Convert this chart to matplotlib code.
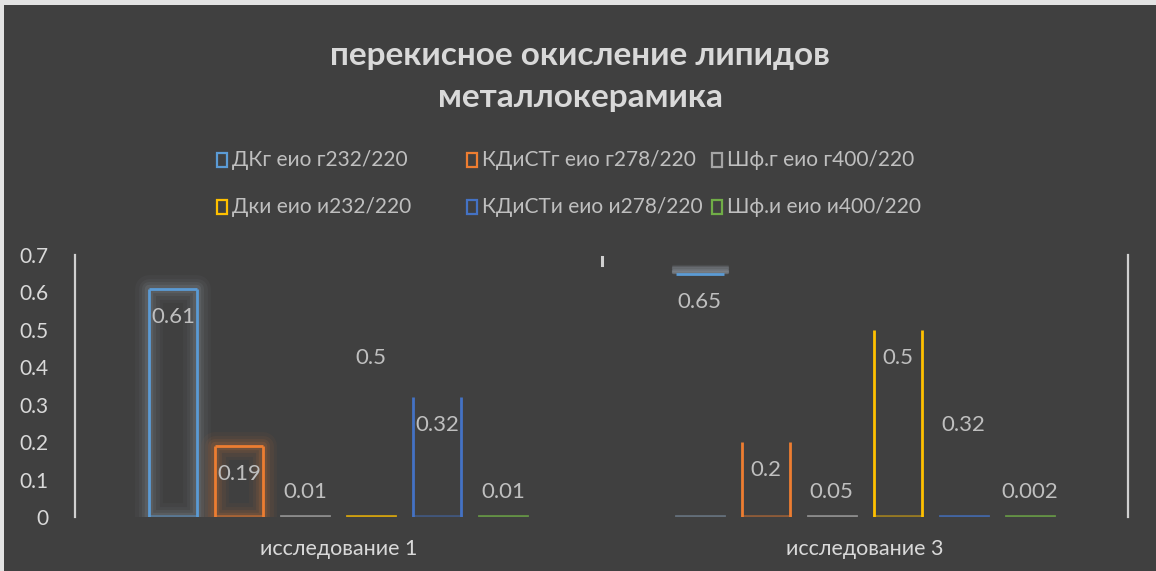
import matplotlib
matplotlib.use("Agg")
import matplotlib.pyplot as plt
from matplotlib.patches import Rectangle

plt.rcParams['font.family'] = ['Lato', 'Open Sans', 'DejaVu Sans']

# ---- data ----
categories = ["исследование 1", "исследование 3"]
series_names = ["ДКг еио г232/220", "КДиСТг еио г278/220", "Шф.г еио г400/220",
                "Дки еио и232/220", "КДиСТи еио и278/220", "Шф.и еио и400/220"]
series_values = [
    [0.61, 0.65],
    [0.19, 0.2],
    [0.01, 0.05],
    [0.5, 0.5],
    [0.32, 0.32],
    [0.01, 0.002],
]
y_ticks = [0, 0.1, 0.2, 0.3, 0.4, 0.5, 0.6, 0.7]
y_tick_labels = ["0", "0.1", "0.2", "0.3", "0.4", "0.5", "0.6", "0.7"]

# ---- style ----
colors = ["#5b9bd5", "#ed7d31", "#a5a5a5", "#ffc000", "#4472c4", "#70ad47"]
# visible outline sides of each bar (l, r, t, b) and whether it has a halo
edges = [
    ["lrtb", "t"],
    ["lrtb", "lrb"],
    ["b", "b"],
    ["b", "lrb"],
    ["lrb", "b"],
    ["b", "b"],
]
glow = [[True, True], [True, False], [False] * 2, [False] * 2, [False] * 2, [False] * 2]
bg = "#404040"
text_col = "#d9d9d9"
label_col = "#bfbfbf"

W, H = 1156, 571
fig = plt.figure(figsize=(W / 100, H / 100), dpi=100, facecolor=bg)

# light frame on top and left edges
fig.patches.append(Rectangle((0, 1 - 5 / H), 1, 5 / H, transform=fig.transFigure,
                             facecolor="#e3e3e3", edgecolor="none", zorder=0))
fig.patches.append(Rectangle((0, 0), 4 / W, 1, transform=fig.transFigure,
                             facecolor="#e3e3e3", edgecolor="none", zorder=0))

ax = fig.add_axes([75 / W, 54 / H, (1128 - 75) / W, (316 - 54) / H])
ax.set_facecolor(bg)
ax.set_xlim(-0.5, len(categories) - 0.5)
ax.set_ylim(0, 0.7)

step = 0.1254
width = 0.0912
n = len(series_names)

for i, (vals, col) in enumerate(zip(series_values, colors)):
    xs = [c + (i - (n - 1) / 2) * step for c in range(len(categories))]
    bars = ax.bar(xs, vals, width=width, color="none", edgecolor="none")
    for j, b in enumerate(bars):
        x0, x1 = b.get_x(), b.get_x() + b.get_width()
        h = b.get_height()
        sides = edges[i][j]
        segs = []
        if "l" in sides:
            segs.append(([x0, x0], [0, h]))
        if "r" in sides:
            segs.append(([x1, x1], [0, h]))
        if "t" in sides:
            segs.append(([x0, x1], [h, h]))
        if glow[i][j]:
            if sides == "t":
                for k, a in zip(range(1, 7), [0.6, 0.55, 0.5, 0.4, 0.28, 0.15]):
                    ax.plot([x0 - 0.006, x1 + 0.006], [h + k * 0.0035, h + k * 0.0035],
                            color="#7d848c", lw=2.4, alpha=a, solid_capstyle="round",
                            zorder=2)
            else:
                halo = "#8a929b" if i == 0 else "#c0703a"
                for lw, a in [(20, 0.06), (15, 0.08), (10, 0.12), (6, 0.18)]:
                    ax.plot([x0, x0, x1, x1, x0], [0, h, h, 0, 0], color=halo,
                            lw=lw, alpha=a, solid_joinstyle="round", zorder=2)
        if "b" in sides:
            if sides == "b" or "l" in sides:
                ax.plot([x0, x1], [0.0015, 0.0015], color=col, lw=2,
                        alpha=0.75 if sides == "b" else 0.45, zorder=3)
            else:
                segs.append(([x0, x1], [0, 0]))
        if sides == "t":
            ax.plot([x0, x1], [0.0015, 0.0015], color="#6c7a88", lw=2, alpha=0.8, zorder=3)
        for sx, sy in segs:
            ax.plot(sx, sy, color=col, lw=2, zorder=4, solid_capstyle="butt")
        # value label, inside the bar end, kept above the axis for small bars
        ly = max(h - 0.075, 0.067)
        ax.text(b.get_x() + b.get_width() / 2, ly, f"{vals[j]:g}", ha="center",
                va="center", color=label_col, fontsize=16, zorder=5)

# axes styling
for s in ["top", "bottom"]:
    ax.spines[s].set_visible(False)
for s in ["left", "right"]:
    ax.spines[s].set_color("#d0d0d0")
    ax.spines[s].set_linewidth(1.6)
ax.plot([0.5, 0.5], [0.672, 0.695], color="#d0d0d0", lw=2.2, zorder=3)

ax.set_yticks(y_ticks)
ax.set_yticklabels(y_tick_labels)
ax.tick_params(axis="y", length=0, pad=19, labelsize=15, labelcolor=text_col)
for t in ax.get_yticklabels():
    t.set_horizontalalignment("right")
ax.set_xticks(range(len(categories)))
ax.set_xticklabels(categories)
ax.tick_params(axis="x", length=0, pad=16, labelsize=15.5, labelcolor=text_col)

# title
fig.text(580 / W, 1 - 55 / H, "перекисное окисление липидов", ha="center", va="center",
         color=text_col, fontsize=24, fontweight="bold")
fig.text(580 / W, 1 - 97 / H, "металлокерамика", ha="center", va="center",
         color=text_col, fontsize=24, fontweight="bold")

# legend, laid out in two rows of three
leg_x = [222, 472, 717]
leg_y = [160, 207]
for k, (name, col) in enumerate(zip(series_names, colors)):
    r, c = k // 3, k % 3
    mx, my = leg_x[c], leg_y[r]
    fig.patches.append(Rectangle(((mx - 5) / W, 1 - (my + 7) / H), 10 / W, 14 / H,
                                 transform=fig.transFigure, facecolor="none",
                                 edgecolor=col, lw=1.6))
    fig.text((mx + 10) / W, 1 - my / H, name, ha="left", va="center",
             color=label_col, fontsize=15)

fig.savefig("out.png", dpi=100, facecolor=bg)
